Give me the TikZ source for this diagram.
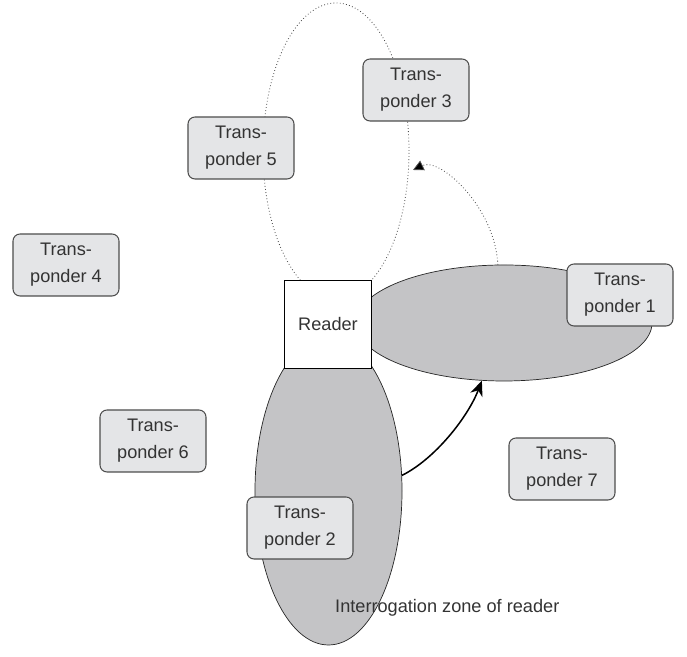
\documentclass[tikz,border=0pt]{standalone}
\usepackage{fontspec}
\setmainfont{Liberation Sans}
\usetikzlibrary{shapes.geometric,arrows.meta}

\definecolor{tagfill}{HTML}{E4E5E7}
\definecolor{tagline}{HTML}{4D4D4D}
\definecolor{zonefill}{HTML}{C4C4C6}
\definecolor{inktext}{HTML}{333333}

\tikzset{
  tag/.style={draw=tagline,fill=tagfill,rounded corners=6pt,line width=0.9pt,
    minimum width=3.18cm,minimum height=1.86cm,align=center,text=inktext,
    font=\fontsize{15.5}{23}\selectfont},
  zone/.style={ellipse,draw=black!85,fill=zonefill,line width=0.6pt,inner sep=0pt},
  field/.style={ellipse,draw=black!70,dotted,line width=0.7pt,inner sep=0pt}
}

\begin{document}
\begin{tikzpicture}[x=0.03cm,y=0.03cm]
    \useasboundingbox (0,0) rectangle (687,657) ;
         % reading zones
         \node[field,minimum width=4.38cm,minimum height=8.88cm] (field) at (336,506) {} ;
         \node[zone,minimum width=8.88cm,minimum height=3.48cm] (zoneA) at (504,334) {} ;
         \node[zone,minimum width=4.41cm,minimum height=9.24cm] (zoneB) at (328.5,166) {} ;
         \node[draw=black,fill=white,line width=0.6pt,minimum width=2.61cm,minimum height=2.64cm,
           text=inktext,font=\fontsize{15.5}{23}\selectfont] (reader) at (328,333) {Reader} ;
         % transponders
         \node[tag] (tp1) at (620,362) {Trans-\\ponder 1} ;
         \node[tag] (tp2) at (300,129) {Trans-\\ponder 2} ;
         \node[tag] (tp3) at (416,567) {Trans-\\ponder 3} ;
         \node[tag] (tp4) at (66,392) {Trans-\\ponder 4} ;
         \node[tag] (tp5) at (241,509) {Trans-\\ponder 5} ;
         \node[tag] (tp6) at (153,216) {Trans-\\ponder 6} ;
         \node[tag] (tp7) at (562,188) {Trans-\\ponder 7} ;
         \node[anchor=base west,text=inktext,font=\fontsize{15.5}{23}\selectfont,inner sep=0pt]
           (zonelabel) at (335,44) {Interrogation zone of reader} ;
         % movements
         \coordinate (tip3) at (413,487) ;
         \draw[line width=1.3pt,-{Stealth[length=13pt,width=11pt]}] (zoneB.12)
           .. controls (435,198) and (468,240) .. (zoneA.-111) ;
         \draw[dotted,draw=black!70,line width=0.7pt,-{Triangle[length=9pt,width=9pt,fill=black,sep=0pt]}]
           (zoneA.96) .. controls (495,450) and (440,500) .. (tip3) ;
       \end{tikzpicture}
\end{document}
